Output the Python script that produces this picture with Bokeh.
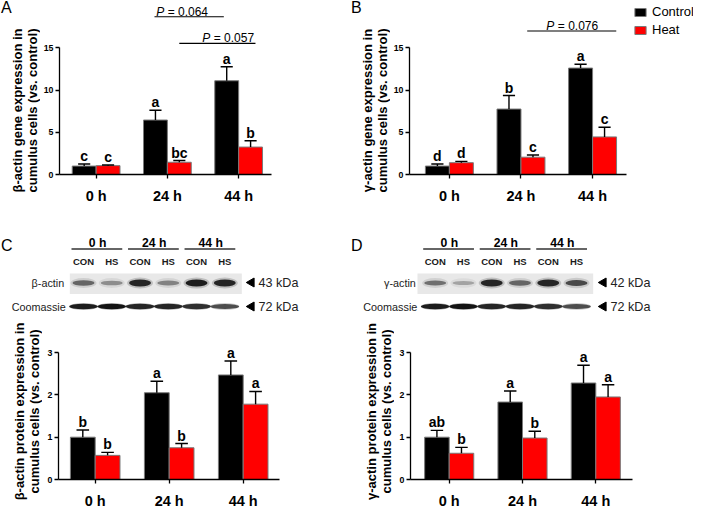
import math
from bokeh.plotting import figure
from bokeh.layouts import row, column
from bokeh.models import Range1d, FixedTicker, Legend, LegendItem
from bokeh.core.properties import value
from bokeh.embed import file_html
from bokeh.resources import INLINE

FONT = "Liberation Sans"

# ---------------- data ----------------
times = ["0 h", "24 h", "44 h"]
series = ["Control", "Heat"]
series_colors = ["#000000", "#ff0000"]

# A: beta-actin gene expression
a_control = [1.0, 6.45, 11.1]
a_control_sem = [0.25, 1.15, 1.65]
a_heat = [1.05, 1.45, 3.25]
a_heat_sem = [0.07, 0.2, 0.75]
a_control_letters = ["c", "a", "a"]
a_heat_letters = ["c", "bc", "b"]
a_pvalues = ["0.064", "0.057"]

# B: gamma-actin gene expression
b_control = [1.0, 7.75, 12.6]
b_control_sem = [0.25, 1.6, 0.45]
b_heat = [1.4, 2.05, 4.45]
b_heat_sem = [0.15, 0.25, 1.15]
b_control_letters = ["d", "b", "a"]
b_heat_letters = ["d", "c", "c"]
b_pvalues = ["0.076"]

# C: beta-actin protein expression
c_control = [1.0, 2.05, 2.47]
c_control_sem = [0.17, 0.27, 0.33]
c_heat = [0.57, 0.75, 1.78]
c_heat_sem = [0.07, 0.1, 0.3]
c_control_letters = ["b", "a", "a"]
c_heat_letters = ["b", "b", "a"]

# D: gamma-actin protein expression
d_control = [1.0, 1.83, 2.28]
d_control_sem = [0.16, 0.26, 0.42]
d_heat = [0.62, 0.98, 1.95]
d_heat_sem = [0.14, 0.16, 0.29]
d_control_letters = ["ab", "a", "a"]
d_heat_letters = ["b", "b", "a"]

a_ylabel = ["β-actin gene expression in", "cumulus cells (vs. control)"]
b_ylabel = ["γ-actin gene expression in", "cumulus cells (vs. control)"]
c_ylabel = ["β-actin protein expression in", "cumulus cells (vs. control)"]
d_ylabel = ["γ-actin protein expression in", "cumulus cells (vs. control)"]

# western blot lanes and band intensities (0..1)
lanes = ["CON", "HS", "CON", "HS", "CON", "HS"]
c_target_bands = [0.6, 0.4, 0.95, 0.45, 1.0, 0.95]
c_coomassie_bands = [0.95, 1.0, 0.9, 0.9, 0.85, 0.7]
d_target_bands = [0.55, 0.3, 0.95, 0.6, 0.95, 0.75]
d_coomassie_bands = [0.95, 1.0, 0.9, 0.9, 0.85, 0.7]

# ---------------- layout constants (reference-picture pixels) ----------------
BAR_W = 0.335
CAP = 0.085
LEFT_X0, RIGHT_X0 = 8, 358        # reference x where left / right columns start
LEFT_W, RIGHT_W = 350, 343
TOP_Y0, TOP_H = 4, 236            # top row
BLOT_Y0, BLOT_H = 252, 79         # blot strip
BOT_Y0, BOT_H = 331, 196          # bottom charts


def plain_fig(width, height, x0, y0):
    # frame fills the figure; coordinates are those of the reference picture
    p = figure(width=width, height=height, output_backend="svg", toolbar_location=None,
               x_range=Range1d(x0, x0 + width), y_range=Range1d(y0 + height, y0),
               x_axis_type=None, y_axis_type=None,
               min_border_left=0, min_border_right=0, min_border_top=0, min_border_bottom=0)
    p.outline_line_color = None
    p.background_fill_color = "white"
    p.border_fill_color = "white"
    return p


def label_fig(width, height, x0, y0, lines, axis_x, yc, letter=None):
    p = plain_fig(width, height, x0, y0)
    p.text(x=[axis_x - 39, axis_x - 24], y=[yc, yc], text=lines, angle=math.pi / 2,
           text_align="center", text_baseline="alphabetic", text_font=value(FONT),
           text_font_style="bold", text_font_size="13px", text_color="black")
    if letter:
        p.text(x=[x0 + 0.5], y=[11], text=[letter], text_align="left",
               text_baseline="middle", text_font=value(FONT), text_font_size="16px",
               text_color="black")
    return column(p)


def bar_panel(width, height, mb_left, mb_bottom, x_start, unit_px, y_px, x_bound_end,
              y_max, yticks, ctrl, ctrl_sem, heat, heat_sem, ctrl_let, heat_let):
    frame_w = width - mb_left
    frame_h = height - mb_bottom
    p = figure(width=width, height=height, output_backend="svg", toolbar_location=None,
               x_range=Range1d(x_start, x_start + frame_w / unit_px),
               y_range=Range1d(0, frame_h / y_px),
               min_border_left=mb_left, min_border_right=0, min_border_top=0,
               min_border_bottom=mb_bottom)
    p.outline_line_color = None
    p.background_fill_color = "white"
    p.border_fill_color = "white"
    p.xgrid.visible = False
    p.ygrid.visible = False
    xs = list(range(len(times)))
    xc = [x - BAR_W / 2 for x in xs]
    xh = [x + BAR_W / 2 for x in xs]
    rc = p.vbar(x=xc, top=ctrl, width=BAR_W, fill_color=series_colors[0],
                line_color="#7a7a7a", line_width=1)
    rh = p.vbar(x=xh, top=heat, width=BAR_W, fill_color=series_colors[1],
                line_color="#7a7a7a", line_width=1)
    for xx, m, s, lab in ((xc, ctrl, ctrl_sem, ctrl_let), (xh, heat, heat_sem, heat_let)):
        tops = [mi + si for mi, si in zip(m, s)]
        p.segment(x0=xx, y0=m, x1=xx, y1=tops, line_color="black", line_width=1.4)
        p.segment(x0=[x - CAP for x in xx], y0=tops, x1=[x + CAP for x in xx], y1=tops,
                  line_color="black", line_width=1.4)
        p.text(x=xx, y=tops, text=lab, text_align="center", text_baseline="alphabetic",
               y_offset=-8, text_font=value(FONT), text_font_style="bold",
               text_font_size="14px", text_color="black")
    p.xaxis.ticker = FixedTicker(ticks=xs)
    p.xaxis.major_label_overrides = {i: t for i, t in enumerate(times)}
    p.xaxis.bounds = (x_start, x_bound_end)
    p.xaxis.minor_tick_line_color = None
    p.xaxis.major_tick_in = 0
    p.xaxis.major_tick_out = 4
    p.xaxis.major_label_standoff = 9
    p.xaxis.major_label_text_font = FONT
    p.xaxis.major_label_text_font_style = "bold"
    p.xaxis.major_label_text_font_size = "14.5px"
    p.xaxis.major_label_text_color = "black"
    p.yaxis.ticker = FixedTicker(ticks=yticks)
    p.yaxis.bounds = (0, y_max)
    p.yaxis.minor_tick_line_color = None
    p.yaxis.major_tick_in = 0
    p.yaxis.major_tick_out = 4
    p.yaxis.major_label_standoff = 2
    p.yaxis.major_label_text_font = FONT
    p.yaxis.major_label_text_font_style = "bold"
    p.yaxis.major_label_text_font_size = "8.8px"
    p.yaxis.major_label_text_color = "black"
    for ax in (p.xaxis, p.yaxis):
        ax.axis_line_color = "black"
        ax.axis_line_width = 1.3
        ax.major_tick_line_color = "black"
        ax.major_tick_line_width = 1.3
    return p, rc, rh


def add_pvalue(p, x0, x1, y, xt, pval):
    p.segment(x0=[x0], y0=[y], x1=[x1], y1=[y], line_color="black", line_width=1.1)
    p.text(x=[xt], y=[y], text=["P"], text_align="right", text_baseline="alphabetic",
           x_offset=-17.5, y_offset=-5, text_font=value(FONT), text_font_style="italic",
           text_font_size="12px", text_color="black")
    p.text(x=[xt], y=[y], text=["= " + pval], text_align="left", text_baseline="alphabetic",
           x_offset=-14, y_offset=-5, text_font=value(FONT),
           text_font_size="12px", text_color="black")


# ---------- A ----------
LA, MA = 40, 16                       # axis at reference x = 8 + 40 + 16 = 64
la = label_fig(LA, TOP_H, LEFT_X0, TOP_Y0, a_ylabel, LEFT_X0 + LA + MA, 114, "A")
pa, _, _ = bar_panel(LEFT_W - LA, TOP_H, MA, 62, (64 - 101) / 72, 72, 8.447, 2.458, 15,
                     [0, 5, 10, 15], a_control, a_control_sem, a_heat, a_heat_sem,
                     a_control_letters, a_heat_letters)
add_pvalue(pa, 0.819, 1.792, 18.68, 1.2, a_pvalues[0])
add_pvalue(pa, 1.167, 2.236, 15.52, 1.847, a_pvalues[1])

# ---------- B ----------
LB, MB = 40, 16                       # axis at reference x = 358 + 40 + 16 = 414
lb = label_fig(LB, TOP_H, RIGHT_X0, TOP_Y0, b_ylabel, RIGHT_X0 + LB + MB, 114, "B")
pb, rbc, rbh = bar_panel(RIGHT_W - LB, TOP_H, MB, 62, (414 - 454.3) / 72.35, 72.35, 8.447,
                         2.47, 15, [0, 5, 10, 15], b_control, b_control_sem, b_heat,
                         b_heat_sem, b_control_letters, b_heat_letters)
add_pvalue(pb, 1.087, 2.331, 16.99, 1.71, b_pvalues[0])
legend = Legend(items=[LegendItem(label=series[0], renderers=[rbc]),
                       LegendItem(label=series[1], renderers=[rbh])],
                location=(224, 137), orientation="vertical",
                glyph_width=14, glyph_height=10, label_standoff=5, spacing=3,
                padding=0, margin=0, border_line_color=None, background_fill_alpha=0,
                label_text_font=FONT, label_text_font_size="13px", label_height=15,
                label_text_color="black")
pb.add_layout(legend)

# ---------- C ----------
LC, MC = 42, 16                       # axis at reference x = 8 + 42 + 16 = 66
lc = label_fig(LC, BOT_H, LEFT_X0, BOT_Y0, c_ylabel, LEFT_X0 + LC + MC, 427)
pc, _, _ = bar_panel(LEFT_W - LC, BOT_H, MC, 29, (66 - 102.7) / 74, 74, 43.1, 2.49, 3,
                     [0, 1, 2, 3], c_control, c_control_sem, c_heat, c_heat_sem,
                     c_control_letters, c_heat_letters)

# ---------- D ----------
LD, MD = 44, 16                       # axis at reference x = 358 + 44 + 16 = 418
ld = label_fig(LD, BOT_H, RIGHT_X0, BOT_Y0, d_ylabel, RIGHT_X0 + LD + MD, 427)
pd_, _, _ = bar_panel(RIGHT_W - LD, BOT_H, MD, 29, (418 - 456.7) / 73.3, 73.3, 43.1, 2.5, 3,
                      [0, 1, 2, 3], d_control, d_control_sem, d_heat, d_heat_sem,
                      d_control_letters, d_heat_letters)


# ---------- blots ----------
def blot_panel(width, x0, letter, lane_x0, pitch, target, coom, protein, kda,
               label_right, box_x0, box_x1, arrow_x):
    p = plain_fig(width, BLOT_H, x0, BLOT_Y0)
    lx = [lane_x0 + i * pitch for i in range(len(lanes))]
    p.text(x=[x0 + 0.5], y=[261], text=[letter], text_align="left", text_baseline="middle",
           text_font=value(FONT), text_font_size="16px", text_color="black")
    hx = [(lx[2 * i] + lx[2 * i + 1]) / 2 for i in range(len(times))]
    p.text(x=hx, y=[258] * len(times), text=times, text_align="center", text_baseline="middle",
           text_font=value(FONT), text_font_style="bold", text_font_size="12.2px",
           text_color="black")
    p.segment(x0=[lx[2 * i] - 12 for i in range(len(times))], y0=[264.5] * len(times),
              x1=[lx[2 * i + 1] + 10.5 for i in range(len(times))], y1=[264.5] * len(times),
              line_color="#333333", line_width=1.3)
    p.text(x=lx, y=[276.5] * len(lanes), text=lanes, text_align="center", text_baseline="middle",
           text_font=value(FONT), text_font_style="bold", text_font_size="9.5px",
           text_color="#1a1a1a")
    p.quad(left=[box_x0], right=[box_x1], top=[289], bottom=[309.5],
           fill_color="#e8e8e8", line_color=None)
    p.ellipse(x=lx, y=[298.5] * 6, width=[26] * 6, height=[9 + 2 * v for v in target],
              fill_color="black", fill_alpha=[0.18 * v for v in target], line_color=None)
    p.ellipse(x=lx, y=[298.5] * 6, width=[22] * 6, height=[3 + 4 * v for v in target],
              fill_color="black", fill_alpha=[0.85 * v for v in target], line_color=None)
    p.ellipse(x=lx, y=[322] * 6, width=[29] * 6, height=[7] * 6,
              fill_color="black", fill_alpha=[0.25 * v for v in coom], line_color=None)
    p.ellipse(x=lx, y=[322] * 6, width=[28.5] * 6, height=[4.5 + v for v in coom],
              fill_color="black", fill_alpha=[0.9 * v for v in coom], line_color=None)
    p.text(x=[label_right, label_right + 1.5], y=[298, 322], text=[protein, "Coomassie"],
           text_align="right", text_baseline="middle", text_font=value(FONT),
           text_font_size="10.8px", text_color="#222222")
    p.scatter(x=[arrow_x, arrow_x], y=[298, 322], marker="triangle", size=9,
              angle=math.pi / 2, fill_color="black", line_color="black")
    p.text(x=[arrow_x + 7, arrow_x + 7], y=[298, 322], text=kda,
           text_align="left", text_baseline="middle", text_font=value(FONT),
           text_font_size="12.6px", text_color="#222222")
    return p


bc = blot_panel(LEFT_W, LEFT_X0, "C", 91, 28.26, c_target_bands, c_coomassie_bands,
                "β-actin", ["43 kDa", "72 kDa"], 71.7, 77.3, 249.3, 259)
bd = blot_panel(RIGHT_W, RIGHT_X0, "D", 442.7, 28.26, d_target_bands, d_coomassie_bands,
                "γ-actin", ["42 kDa", "72 kDa"], 423.3, 425, 600.7, 611)

layout = column(row(la, pa, lb, pb),
                row(column(bc, row(lc, pc)), column(bd, row(ld, pd_))))

with open("out.html", "w") as f:
    f.write(file_html(layout, INLINE))
